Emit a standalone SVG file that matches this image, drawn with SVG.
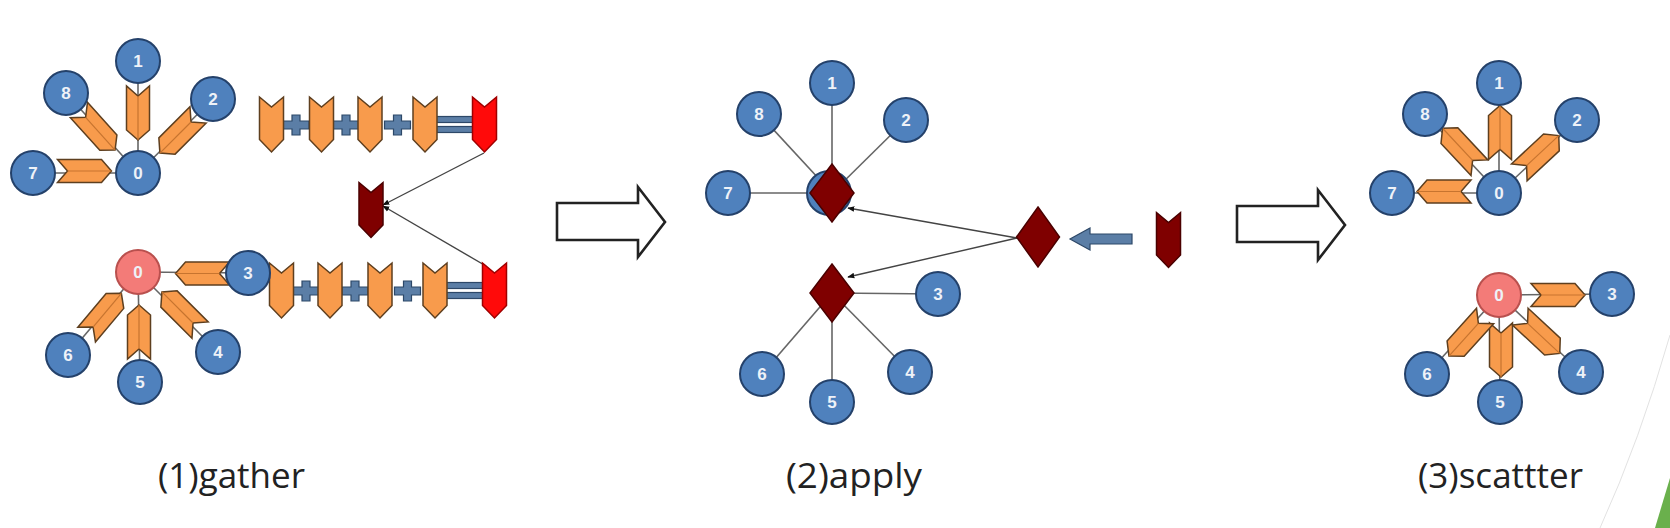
<svg xmlns="http://www.w3.org/2000/svg" xmlns:xlink="http://www.w3.org/1999/xlink" width="1670" height="528" viewBox="0 0 1670 528">
<style>
.node circle{fill:#4f81bd;stroke:#24416a;stroke-width:2}
.node.pink circle{fill:#f37b78;stroke:#b9504e}
.node text{font-family:"Liberation Sans",Arial,sans-serif;font-size:17px;font-weight:bold;fill:#eef2f8;text-anchor:middle}
.edge{stroke:#666;stroke-width:1.6;fill:none}
.arr{stroke:#444;stroke-width:1.4;fill:none}
.ochev{fill:#f89b4c;stroke:#5e3f1f;stroke-width:1.5}
.cline{stroke:#c7742f;stroke-width:1.2;fill:none}
.red{fill:#ff0a0a;stroke:#a00000;stroke-width:1.5}
.dred{fill:#7f0000;stroke:#4a0000;stroke-width:1.5}
.op{fill:#5b7ea6;stroke:#2d4868;stroke-width:1.2}
.hollow{fill:#fff;stroke:#222;stroke-width:2.6;stroke-linejoin:miter}
.label{font-family:"Open Sans","Liberation Sans",sans-serif;font-size:34px;fill:#222}
</style>
<defs>
<path id="chev" d="M-27,-11.5 H17 L27,0 L17,11.5 H-27 L-17,0 Z"/>
<path id="cl" d="M-17,0 H27"/>
<path id="vchev" d="M-12,-27.5 L0,-17.5 L12,-27.5 V15 L0,27.5 L-12,15 Z"/>
<path id="plus" d="M-13,-4 H-4 V-10 H4 V-4 H13 V4 H4 V10 H-4 V4 H-13 Z"/>
<marker id="ah" viewBox="0 0 10 10" refX="9" refY="5" markerWidth="7" markerHeight="7" orient="auto" markerUnits="userSpaceOnUse">
<path d="M0,1 L10,5 L0,9 Z" fill="#111"/>
</marker>
</defs>
<rect width="1670" height="528" fill="#fff"/>
<path d="M1600,528 Q1640,440 1670,335" stroke="#e2e2e2" stroke-width="1" fill="none"/>
<polygon points="1655,528 1670,478 1670,528" fill="#6ab04c"/>

<g id="connectors">
<line class="edge" x1="138" y1="61" x2="138" y2="173"/>
<line class="edge" x1="66" y1="93" x2="138" y2="173"/>
<line class="edge" x1="213" y1="99" x2="138" y2="173"/>
<line class="edge" x1="33" y1="173" x2="138" y2="173"/>
<line class="edge" x1="138" y1="272" x2="248" y2="273"/>
<line class="edge" x1="138" y1="272" x2="68" y2="355"/>
<line class="edge" x1="138" y1="272" x2="140" y2="382"/>
<line class="edge" x1="138" y1="272" x2="218" y2="352"/>
<line class="arr" x1="484" y1="153" x2="383" y2="205" marker-end="url(#ah)"/>
<line class="arr" x1="486" y1="266" x2="383" y2="206" marker-end="url(#ah)"/>
<line class="edge" x1="832" y1="83" x2="832" y2="193"/>
<line class="edge" x1="759" y1="114" x2="832" y2="193"/>
<line class="edge" x1="906" y1="120" x2="832" y2="193"/>
<line class="edge" x1="728" y1="193" x2="832" y2="193"/>
<line class="edge" x1="832" y1="293" x2="938" y2="294"/>
<line class="edge" x1="832" y1="293" x2="762" y2="374"/>
<line class="edge" x1="832" y1="293" x2="832" y2="402"/>
<line class="edge" x1="832" y1="293" x2="910" y2="372"/>
<line class="arr" x1="1017" y1="238" x2="848" y2="208" marker-end="url(#ah)"/>
<line class="arr" x1="1017" y1="238" x2="848" y2="277" marker-end="url(#ah)"/>
<line class="edge" x1="1499" y1="193" x2="1499" y2="83"/>
<line class="edge" x1="1499" y1="193" x2="1425" y2="114"/>
<line class="edge" x1="1499" y1="193" x2="1577" y2="120"/>
<line class="edge" x1="1499" y1="193" x2="1392" y2="193"/>
<line class="edge" x1="1499" y1="295" x2="1612" y2="294"/>
<line class="edge" x1="1499" y1="295" x2="1427" y2="374"/>
<line class="edge" x1="1499" y1="295" x2="1500" y2="402"/>
<line class="edge" x1="1499" y1="295" x2="1581" y2="372"/>
</g>

<g id="gather-messages">
<g transform="translate(138,113) rotate(90)"><use href="#chev" class="ochev"/><use href="#cl" class="cline"/></g>
<g transform="translate(84.5,171) rotate(0)"><use href="#chev" class="ochev"/><use href="#cl" class="cline"/></g>
<g transform="translate(97,130) rotate(48)"><use href="#chev" class="ochev"/><use href="#cl" class="cline"/></g>
<g transform="translate(179,134) rotate(135)"><use href="#chev" class="ochev"/><use href="#cl" class="cline"/></g>
<g transform="translate(202.5,273.5) rotate(180)"><use href="#chev" class="ochev"/><use href="#cl" class="cline"/></g>
<g transform="translate(139,332) rotate(-90)"><use href="#chev" class="ochev"/><use href="#cl" class="cline"/></g>
<g transform="translate(104,314) rotate(-50)"><use href="#chev" class="ochev"/><use href="#cl" class="cline"/></g>
<g transform="translate(181,311) rotate(-135)"><use href="#chev" class="ochev"/><use href="#cl" class="cline"/></g>
</g>

<g id="sum-top">
<use href="#plus" class="op" x="296" y="125"/>
<use href="#plus" class="op" x="346" y="125"/>
<use href="#plus" class="op" x="397.5" y="125"/>
<rect class="op" x="436" y="116.5" width="37" height="6"/>
<rect class="op" x="436" y="126.5" width="37" height="6"/>
<use href="#vchev" class="ochev" x="271.5" y="124.5"/>
<use href="#vchev" class="ochev" x="321.5" y="124.5"/>
<use href="#vchev" class="ochev" x="370" y="124.5"/>
<use href="#vchev" class="ochev" x="425" y="124.5"/>
<use href="#vchev" class="red" x="484.5" y="124.5"/>
</g>
<g id="sum-bottom">
<use href="#plus" class="op" x="306" y="291"/>
<use href="#plus" class="op" x="355" y="291"/>
<use href="#plus" class="op" x="407.5" y="291"/>
<rect class="op" x="446" y="282.5" width="37" height="6"/>
<rect class="op" x="446" y="292.5" width="37" height="6"/>
<use href="#vchev" class="ochev" x="281.5" y="290.5"/>
<use href="#vchev" class="ochev" x="330" y="290.5"/>
<use href="#vchev" class="ochev" x="380" y="290.5"/>
<use href="#vchev" class="ochev" x="435" y="290.5"/>
<use href="#vchev" class="red" x="494.5" y="290.5"/>
</g>
<g id="gather-result"><use href="#vchev" class="dred" x="371" y="210"/></g>

<g id="g-n1" class="node"><circle cx="138" cy="61" r="22"/><text x="138" y="67">1</text></g>
<g id="g-n8" class="node"><circle cx="66" cy="93" r="22"/><text x="66" y="99">8</text></g>
<g id="g-n2" class="node"><circle cx="213" cy="99" r="22"/><text x="213" y="105">2</text></g>
<g id="g-n7" class="node"><circle cx="33" cy="173" r="22"/><text x="33" y="179">7</text></g>
<g id="g-n0" class="node"><circle cx="138" cy="173" r="22"/><text x="138" y="179">0</text></g>
<g id="g-m0" class="node pink"><circle cx="138" cy="272" r="22"/><text x="138" y="278">0</text></g>
<g id="g-n3" class="node"><circle cx="248" cy="273" r="22"/><text x="248" y="279">3</text></g>
<g id="g-n6" class="node"><circle cx="68" cy="355" r="22"/><text x="68" y="361">6</text></g>
<g id="g-n5" class="node"><circle cx="140" cy="382" r="22"/><text x="140" y="388">5</text></g>
<g id="g-n4" class="node"><circle cx="218" cy="352" r="22"/><text x="218" y="358">4</text></g>

<g id="arrow-1"><path class="hollow" d="M557,203 H638 V187 L665,222 L638,257 V240 H557 Z"/></g>

<g id="a-n1" class="node"><circle cx="832" cy="83" r="22"/><text x="832" y="89">1</text></g>
<g id="a-n8" class="node"><circle cx="759" cy="114" r="22"/><text x="759" y="120">8</text></g>
<g id="a-n2" class="node"><circle cx="906" cy="120" r="22"/><text x="906" y="126">2</text></g>
<g id="a-n7" class="node"><circle cx="728" cy="193" r="22"/><text x="728" y="199">7</text></g>
<g id="a-n0" class="node"><circle cx="829" cy="193" r="22"/></g>
<g id="a-d0"><polygon class="dred" points="832,164 854,193 832,222 810,193"/></g>
<g id="a-d1"><polygon class="dred" points="832,264 854,293 832,322 810,293"/></g>
<g id="a-n3" class="node"><circle cx="938" cy="294" r="22"/><text x="938" y="300">3</text></g>
<g id="a-n6" class="node"><circle cx="762" cy="374" r="22"/><text x="762" y="380">6</text></g>
<g id="a-n5" class="node"><circle cx="832" cy="402" r="22"/><text x="832" y="408">5</text></g>
<g id="a-n4" class="node"><circle cx="910" cy="372" r="22"/><text x="910" y="378">4</text></g>
<g id="a-new"><polygon class="dred" points="1038,207 1059.5,237 1038,267 1016.5,237"/></g>
<g id="a-left-arrow"><path class="op" d="M1132,234 H1090 V228 L1070,239 L1090,250 V244 H1132 Z"/></g>
<g id="a-value"><use href="#vchev" class="dred" x="1168.5" y="240"/></g>

<g id="arrow-2"><path class="hollow" d="M1237,206 H1318 V190 L1345,225 L1318,260 V242 H1237 Z"/></g>

<g id="scatter-messages">
<g transform="translate(1500,132.5) rotate(-90)"><use href="#chev" class="ochev"/><use href="#cl" class="cline"/></g>
<g transform="translate(1444,191.5) rotate(180)"><use href="#chev" class="ochev"/><use href="#cl" class="cline"/></g>
<g transform="translate(1461,148) rotate(-133)"><use href="#chev" class="ochev"/><use href="#cl" class="cline"/></g>
<g transform="translate(1539,154) rotate(-43)"><use href="#chev" class="ochev"/><use href="#cl" class="cline"/></g>
<g transform="translate(1558,295) rotate(0)"><use href="#chev" class="ochev"/><use href="#cl" class="cline"/></g>
<g transform="translate(1501,350) rotate(90)"><use href="#chev" class="ochev"/><use href="#cl" class="cline"/></g>
<g transform="translate(1467,336) rotate(132)"><use href="#chev" class="ochev"/><use href="#cl" class="cline"/></g>
<g transform="translate(1540,335) rotate(43)"><use href="#chev" class="ochev"/><use href="#cl" class="cline"/></g>
</g>
<g id="s-n1" class="node"><circle cx="1499" cy="83" r="22"/><text x="1499" y="89">1</text></g>
<g id="s-n8" class="node"><circle cx="1425" cy="114" r="22"/><text x="1425" y="120">8</text></g>
<g id="s-n2" class="node"><circle cx="1577" cy="120" r="22"/><text x="1577" y="126">2</text></g>
<g id="s-n7" class="node"><circle cx="1392" cy="193" r="22"/><text x="1392" y="199">7</text></g>
<g id="s-n0" class="node"><circle cx="1499" cy="193" r="22"/><text x="1499" y="199">0</text></g>
<g id="s-m0" class="node pink"><circle cx="1499" cy="295" r="22"/><text x="1499" y="301">0</text></g>
<g id="s-n3" class="node"><circle cx="1612" cy="294" r="22"/><text x="1612" y="300">3</text></g>
<g id="s-n6" class="node"><circle cx="1427" cy="374" r="22"/><text x="1427" y="380">6</text></g>
<g id="s-n5" class="node"><circle cx="1500" cy="402" r="22"/><text x="1500" y="408">5</text></g>
<g id="s-n4" class="node"><circle cx="1581" cy="372" r="22"/><text x="1581" y="378">4</text></g>

<g id="labels">
<text class="label" x="158" y="488" textLength="147" lengthAdjust="spacingAndGlyphs">(1)gather</text>
<text class="label" x="786" y="488" textLength="136" lengthAdjust="spacingAndGlyphs">(2)apply</text>
<text class="label" x="1418" y="488" textLength="165" lengthAdjust="spacingAndGlyphs">(3)scattter</text>
</g>
</svg>
